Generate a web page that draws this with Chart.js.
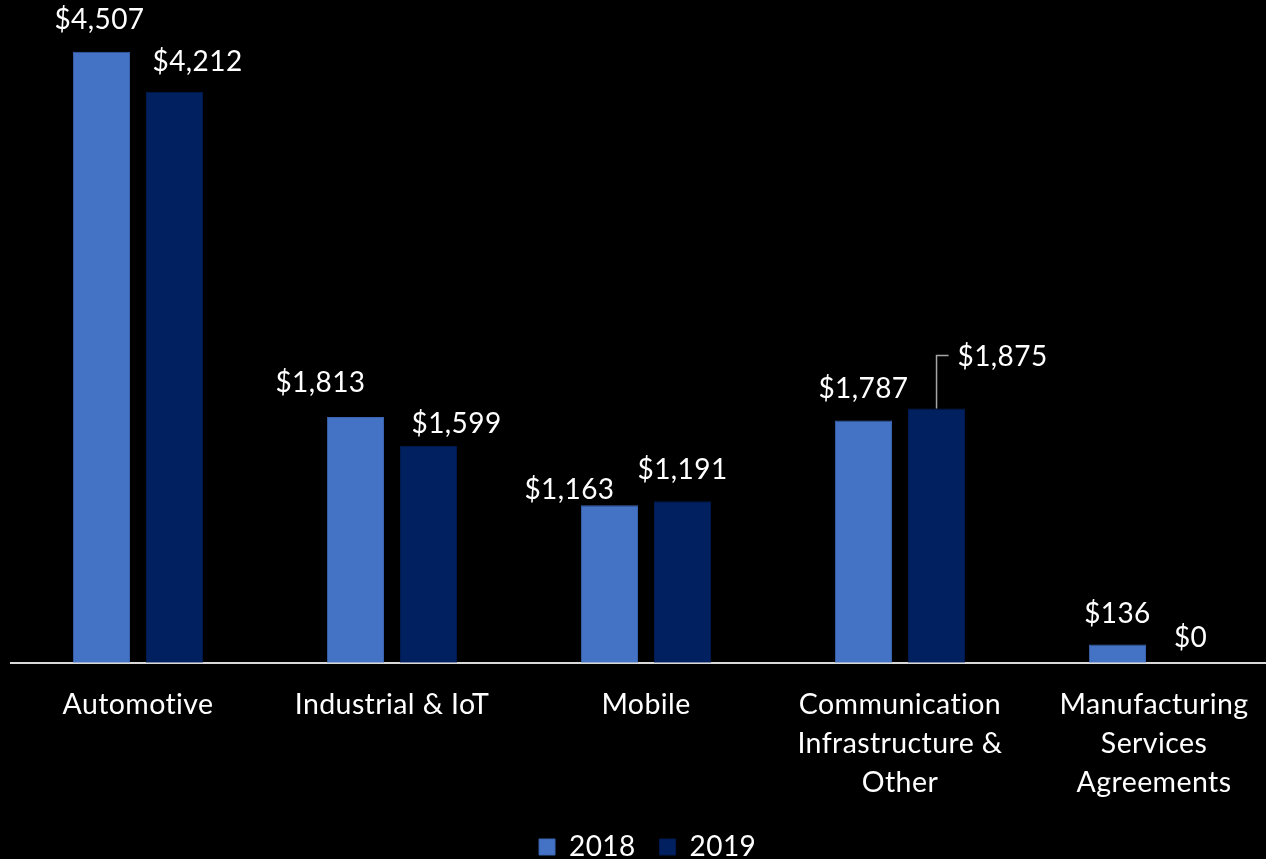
<!DOCTYPE html>
<html>
<head>
<meta charset="utf-8">
<title>Revenue by segment</title>
<script src="https://cdn.jsdelivr.net/npm/chart.js@4"></script>
<style>
    html, body {
        margin: 0;
        padding: 0;
        background: #000;
        overflow: hidden;
    }
    #wrap {
        position: relative;
        width: 1281px;
        height: 859px;
    }
</style>
</head>
<body>
<div id="wrap">
    <canvas id="segmentChart"></canvas>
</div>
<script>
const categories = [
    ["Automotive"],
    ["Industrial & IoT"],
    ["Mobile"],
    ["Communication", "Infrastructure &", "Other"],
    ["Manufacturing", "Services", "Agreements"]
];
const seriesNames = ["2018", "2019"];
const values2018 = [4507, 1813, 1163, 1787, 136];
const values2019 = [4212, 1599, 1191, 1875, 0];

// nudges for the value labels, [dx, dy] per bar
const labelNudges = [
    [[-2, -1], [-35, -3], [-40, 16], [0, -1], [0, 1]],
    [[23, 1], [28, 9], [0, 0], [66, -21], [0, 6]]
];
// labels that get a leader line back to their bar
const leaderLines = [{ dataset: 1, index: 3 }];

const FONT = "Lato, 'Open Sans', sans-serif";

function formatMoney(v) {
    return "$" + v.toLocaleString("en-US");
}

// a touch of tracking keeps Lato from joining "ti"
const textTracking = {
    id: "textTracking",
    beforeDraw(chart) {
        chart.ctx.letterSpacing = "0.4px";
    }
};

const valueLabels = {
    id: "valueLabels",
    afterDatasetsDraw(chart) {
        const { ctx } = chart;
        ctx.save();
        ctx.font = `28px ${FONT}`;
        ctx.fillStyle = "#ffffff";
        ctx.textAlign = "center";
        ctx.textBaseline = "middle";

        chart.data.datasets.forEach((ds, di) => {
            const meta = chart.getDatasetMeta(di);
            meta.data.forEach((bar, i) => {
                const [dx, dy] = labelNudges[di][i];
                const text = formatMoney(ds.data[i]);
                const lx = bar.x + dx;
                const ly = bar.y - 31 + dy;
                ctx.fillText(text, lx, ly);

                const hasLeader = leaderLines.some((l) => l.dataset === di && l.index === i);
                if (hasLeader) {
                    const left = lx - ctx.measureText(text).width / 2;
                    ctx.strokeStyle = "#a6a6a6";
                    ctx.lineWidth = 1.5;
                    ctx.beginPath();
                    ctx.moveTo(bar.x, bar.y);
                    ctx.lineTo(bar.x, ly - 1);
                    ctx.lineTo(left - 9, ly - 1);
                    ctx.stroke();
                }
            });
        });
        ctx.restore();
    }
};

new Chart(document.getElementById("segmentChart"), {
    type: "bar",
    data: {
        labels: categories,
        datasets: [
            {
                label: seriesNames[0],
                data: values2018,
                backgroundColor: "#4472c4",
                borderColor: "#3a64b0",
                borderWidth: 1
            },
            {
                label: seriesNames[1],
                data: values2019,
                backgroundColor: "#002060",
                borderColor: "#001a50",
                borderWidth: 1
            }
        ]
    },
    options: {
        responsive: true,
        maintainAspectRatio: false,
        animation: false,
        categoryPercentage: 0.5754,
        barPercentage: 0.781,
        layout: {
            padding: { top: 12, left: 11, right: 0, bottom: -12 }
        },
        scales: {
            x: {
                grid: { display: false, drawTicks: false },
                border: { display: true, color: "#d9d9d9", width: 2 },
                ticks: {
                    color: "#ffffff",
                    padding: 22,
                    maxRotation: 0,
                    autoSkip: false,
                    font: { family: FONT, size: 28.5, lineHeight: 1.37 }
                },
                afterFit(scale) {
                    // pull the legend up under the category names
                    scale.height -= 15;
                }
            },
            y: {
                display: false,
                min: 0,
                max: 4800
            }
        },
        plugins: {
            legend: {
                position: "bottom",
                labels: {
                    color: "#ffffff",
                    boxWidth: 16,
                    boxHeight: 16,
                    padding: 24,
                    font: { family: FONT, size: 28 }
                }
            },
            tooltip: { enabled: false }
        }
    },
    plugins: [textTracking, valueLabels]
});
</script>
</body>
</html>
